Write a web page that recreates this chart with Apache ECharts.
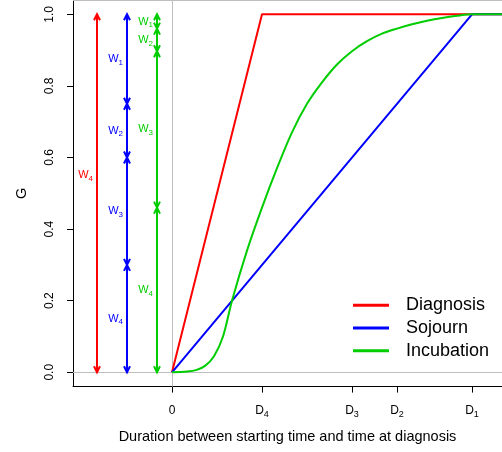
<!DOCTYPE html>
<html>
<head>
<meta charset="utf-8">
<script src="https://cdn.jsdelivr.net/npm/echarts@6/dist/echarts.min.js"></script>
<style>
  html, body { margin: 0; padding: 0; background: #fff; }
  #chart { width: 502px; height: 452px; }
</style>
</head>
<body>
<div id="chart"></div>
<script>
// curves
const diagX = [0, 0.3, 1.1];
const diagG = [0, 1, 1];
const sojournX = [0, 1, 1.1];
const sojournG = [0, 1, 1];
const incubX = [0, 0.05, 0.08, 0.11, 0.14, 0.17, 0.2, 0.25, 0.3, 0.35, 0.4, 0.45, 0.5, 0.55, 0.6, 0.65, 0.7, 0.75, 0.8, 0.85, 0.9, 0.95, 1.0, 1.1];
const incubG = [0, 0.002, 0.006, 0.018, 0.045, 0.10, 0.20, 0.34, 0.46, 0.57, 0.67, 0.75, 0.81, 0.86, 0.897, 0.925, 0.946, 0.96, 0.972, 0.982, 0.99, 0.996, 1.0, 1.0];

// vertical arrows on the left
const arrowX = [-0.25, -0.15, -0.05];
const diagBreaks = [0, 1];
const sojournBreaks = [0, 0.3, 0.6, 0.75, 1];
const incubBreaks = [0, 0.46, 0.897, 0.96, 1];
const diagLabelG = [0.55];
const diagNames = ['4'];
const sojournNames = ['4', '3', '2', '1'];
const incubNames = ['4', '3', '2', '1'];

// ticks
const xTickValues = [0, 0.3, 0.6, 0.75, 1];
const xTickNames = ['0', 'D4', 'D3', 'D2', 'D1'];
const yTickValues = [0, 0.2, 0.4, 0.6, 0.8, 1.0];

const names = ['Diagnosis', 'Sojourn', 'Incubation'];
const colors = ['#ff0000', '#0000ff', '#00cd00'];
const FONT = 'Liberation Sans, Arial, sans-serif';

const chart = echarts.init(document.getElementById('chart'));

function pairs(xs, ys) {
  return xs.map((x, i) => [x, ys[i]]);
}

function segments(x, breaks, labelG) {
  const out = [];
  for (let i = 0; i < breaks.length - 1; i++) {
    const mid = labelG ? labelG[i] : (breaks[i] + breaks[i + 1]) / 2;
    out.push([x, breaks[i], breaks[i + 1], mid]);
  }
  return out;
}

function arrowRenderer(labels, color) {
  return function (params, api) {
    const x = api.value(0);
    const p0 = api.coord([x, api.value(1)]);
    const p1 = api.coord([x, api.value(2)]);
    const pm = api.coord([x, api.value(3)]);
    const L = 6, W = 3;
    const st = { stroke: color, fill: null, lineWidth: 2 };
    return {
      type: 'group',
      children: [
        { type: 'line', shape: { x1: p0[0], y1: p0[1], x2: p1[0], y2: p1[1] }, style: st },
        { type: 'polyline', shape: { points: [[p0[0] - W, p0[1] - L], [p0[0], p0[1]], [p0[0] + W, p0[1] - L]] }, style: st },
        { type: 'polyline', shape: { points: [[p1[0] - W, p1[1] + L], [p1[0], p1[1]], [p1[0] + W, p1[1] + L]] }, style: st },
        {
          type: 'text',
          x: pm[0] - 4,
          y: pm[1],
          style: {
            text: '{w|W}{s|' + labels[params.dataIndex] + '}',
            align: 'right',
            verticalAlign: 'middle',
            fill: color,
            rich: {
              w: { fontSize: 11, fontFamily: FONT, fill: color, lineHeight: 12 },
              s: { fontSize: 8, fontFamily: FONT, fill: color, lineHeight: 8, padding: [7, 0, 0, 0] }
            }
          }
        }
      ]
    };
  };
}

function arrowSeries(id, x, breaks, labelG, labels, color) {
  return {
    type: 'custom',
    id: id,
    silent: true,
    encode: { x: 0, y: [1, 2] },
    data: segments(x, breaks, labelG),
    renderItem: arrowRenderer(labels, color),
    z: 3
  };
}

const grayLine = { color: '#bebebe', width: 1, type: 'solid' };

const option = {
  animation: false,
  backgroundColor: '#fff',
  textStyle: { fontFamily: FONT },
  grid: { left: 73, right: 0, top: 0, bottom: 65.4 },
  legend: {
    data: names,
    orient: 'vertical',
    left: 353,
    top: 294,
    padding: 0,
    itemGap: 0,
    itemWidth: 36,
    itemHeight: 3,
    icon: 'rect',
    selectedMode: false,
    textStyle: { fontSize: 18, lineHeight: 22.7, color: '#000', fontFamily: FONT, padding: [0, 0, 0, 12] }
  },
  xAxis: {
    type: 'value',
    min: -0.33,
    max: 1.1,
    name: 'Duration between starting time and time at diagnosis',
    nameLocation: 'middle',
    nameGap: 43,
    nameTextStyle: { fontSize: 14.5, color: '#000', fontFamily: FONT },
    splitLine: { show: false },
    axisLine: { onZero: false, lineStyle: { color: '#000', width: 1 } },
    axisTick: { customValues: xTickValues, length: 6, lineStyle: { color: '#000' } },
    axisLabel: {
      customValues: xTickValues,
      margin: 18,
      color: '#000',
      formatter: function (v) {
        const i = xTickValues.indexOf(v);
        const n = i >= 0 ? xTickNames[i] : '';
        if (n.length > 1) return '{d|' + n[0] + '}{s|' + n.slice(1) + '}';
        return '{d|' + n + '}';
      },
      rich: {
        d: { fontSize: 12, fontFamily: FONT, color: '#000', lineHeight: 13 },
        s: { fontSize: 9, fontFamily: FONT, color: '#000', lineHeight: 9, padding: [7, 0, 0, 0] }
      }
    }
  },
  yAxis: {
    type: 'value',
    min: -0.04,
    max: 1.04,
    name: 'G',
    nameLocation: 'middle',
    nameRotate: 90,
    nameGap: 44,
    nameTextStyle: { fontSize: 14.5, color: '#000', fontFamily: FONT },
    splitLine: { show: false },
    axisLine: { onZero: false, lineStyle: { color: '#000', width: 1 } },
    axisTick: { customValues: yTickValues, length: 6, lineStyle: { color: '#000' } },
    axisLabel: {
      customValues: yTickValues,
      rotate: 90,
      margin: 17,
      fontSize: 12,
      color: '#000',
      fontFamily: FONT,
      formatter: function (v) { return v.toFixed(1); }
    }
  },
  series: [
    {
      name: names[0],
      type: 'line',
      data: pairs(diagX, diagG),
      color: colors[0],
      showSymbol: false,
      lineStyle: { width: 2 },
      z: 4,
      markLine: {
        silent: true,
        symbol: 'none',
        label: { show: false },
        lineStyle: grayLine,
        z: 1,
        data: [{ yAxis: 0 }, { xAxis: 0 }, { yAxis: 1.04 }]
      }
    },
    {
      name: names[1],
      type: 'line',
      data: pairs(sojournX, sojournG),
      color: colors[1],
      showSymbol: false,
      lineStyle: { width: 2 },
      z: 5
    },
    {
      name: names[2],
      type: 'line',
      data: pairs(incubX, incubG),
      color: colors[2],
      showSymbol: false,
      smooth: 0.3,
      lineStyle: { width: 2 },
      z: 6
    },
    arrowSeries('arrowDiag', arrowX[0], diagBreaks, diagLabelG, diagNames, colors[0]),
    arrowSeries('arrowSojourn', arrowX[1], sojournBreaks, null, sojournNames, colors[1]),
    arrowSeries('arrowIncub', arrowX[2], incubBreaks, null, incubNames, colors[2])
  ]
};

chart.setOption(option);
</script>
</body>
</html>
